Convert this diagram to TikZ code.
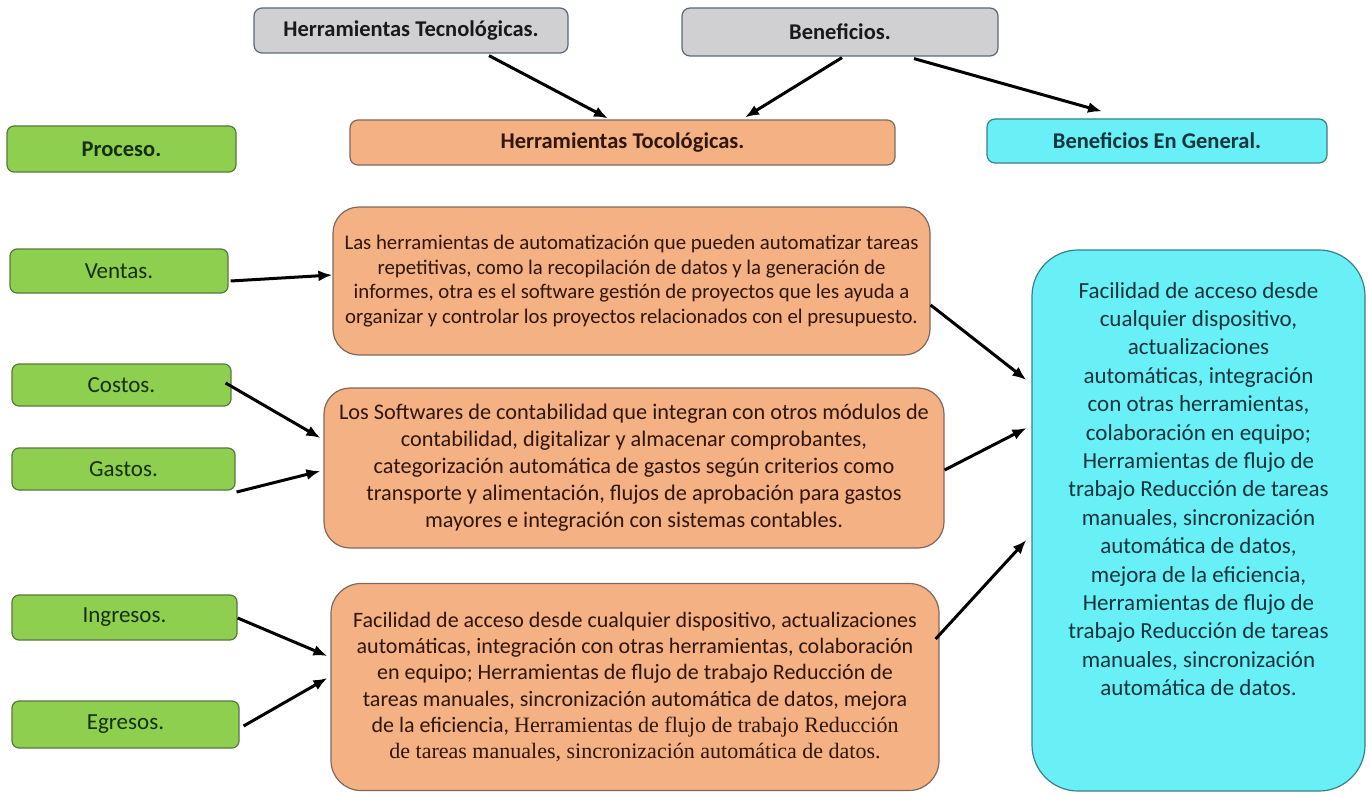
\documentclass[tikz,border=0pt]{standalone}
\usepackage{fontspec}
\setmainfont{Carlito}
\newfontfamily\seriffont{Liberation Serif}
\usepackage{xcolor}
\usepackage{tikz}
\usetikzlibrary{positioning, calc, arrows.meta}
\definecolor{grisfondo}{RGB}{208, 208, 210}
\definecolor{grisborde}{RGB}{92, 104, 118}
\definecolor{naranja}{RGB}{244, 177, 131}
\definecolor{naranjaborde}{RGB}{128, 104, 92}
\definecolor{verde}{RGB}{143, 207, 79}
\definecolor{verdeborde}{RGB}{88, 120, 60}
\definecolor{cian}{RGB}{104, 240, 246}
\definecolor{cianborde}{RGB}{58, 128, 136}
\definecolor{textoverde}{RGB}{22, 48, 10}
\definecolor{textocian}{RGB}{20, 52, 62}
\definecolor{textonaranja}{RGB}{48, 22, 12}

\begin{document}
\begin{tikzpicture}[x=1pt, y=-1pt,
    caja/.style={draw, rectangle, line width=1.2pt, inner sep=0pt},
    gris/.style={caja, fill=grisfondo, draw=grisborde, rounded corners=8pt, font=\fontsize{22.5}{26}\selectfont\bfseries, text=black!90},
    verdebox/.style={caja, fill=verde, draw=verdeborde, rounded corners=7pt, font=\fontsize{23}{27}\selectfont, text=textoverde},
    naranjabox/.style={caja, fill=naranja, draw=naranjaborde, align=center, text=textonaranja},
    flecha/.style={line width=3pt, -{Latex[length=14pt,width=11pt]}}]
    \useasboundingbox (0,0) rectangle (1370,797);

    % fila de arriba
    \node[gris, minimum width=314pt, minimum height=45pt] (tec) at (411,30.5) {Herramientas Tecnológicas.};
    \node[gris, minimum width=316pt, minimum height=48pt] (ben) at (840,32) {Beneficios.};
    \node[gris, fill=naranja, draw=naranjaborde, text=textonaranja, minimum width=545pt, minimum height=45pt] (toco) at (622.5,142.5) {Herramientas Tocológicas.};
    \node[gris, fill=cian, draw=cianborde, text=textocian, minimum width=340pt, minimum height=44pt] (gen) at (1157,141) {Beneficios En General.};

    % procesos
    \node[verdebox, font=\fontsize{22.5}{26}\selectfont\bfseries, minimum width=229pt, minimum height=46pt] (proc) at (121.5,149) {Proceso.};
    \node[verdebox, minimum width=218pt, minimum height=44pt] (ventas) at (119,271) {Ventas.};
    \node[verdebox, minimum width=219pt, minimum height=42pt] (costos) at (121.5,385) {Costos.};
    \node[verdebox, minimum width=223pt, minimum height=42pt] (gastos) at (123.5,469) {Gastos.};
    \node[verdebox, minimum width=225pt, minimum height=45pt] (ingresos) at (124.5,617.5) {Ingresos.};
    \node[verdebox, minimum width=227pt, minimum height=47pt] (egresos) at (125.5,724.5) {Egresos.};

    % herramientas
    \node[naranjabox, rounded corners=26pt, minimum width=597pt, minimum height=148pt, font=\fontsize{20.8}{24.5}\selectfont] (caja1) at (631.5,281) {Las herramientas de automatización que pueden automatizar tareas\\ repetitivas, como la recopilación de datos y la generación de\\ informes, otra es el software gestión de proyectos que les ayuda a\\ organizar y controlar los proyectos relacionados con el presupuesto.};
    \node[naranjabox, rounded corners=26pt, minimum width=620pt, minimum height=160pt, font=\fontsize{22.3}{27}\selectfont] (caja2) at (634,468) {Los Softwares de contabilidad que integran con otros módulos de\\ contabilidad, digitalizar y almacenar comprobantes,\\ categorización automática de gastos según criterios como\\ transporte y alimentación, flujos de aprobación para gastos\\ mayores e integración con sistemas contables.};
    \node[naranjabox, rounded corners=30pt, minimum width=608pt, minimum height=207pt, font=\fontsize{22}{26.2}\selectfont] (caja3) at (635,687) {Facilidad de acceso desde cualquier dispositivo, actualizaciones\\ automáticas, integración con otras herramientas, colaboración\\ en equipo; Herramientas de flujo de trabajo Reducción de\\ tareas manuales, sincronización automática de datos, mejora\\ de la eficiencia, {\seriffont Herramientas de flujo de trabajo Reducción}\\ {\seriffont de tareas manuales, sincronización automática de datos.}};

    % beneficios en general
    \node[caja, fill=cian, draw=cianborde, rounded corners=46pt, minimum width=333pt, minimum height=541pt] (cuadro) at (1198.5,520.5) {};
    \node[align=center, text=textocian, font=\fontsize{23}{28.4}\selectfont] (cuadrotxt) at (1198.5,489) {Facilidad de acceso desde\\ cualquier dispositivo,\\ actualizaciones\\ automáticas, integración\\ con otras herramientas,\\ colaboración en equipo;\\ Herramientas de flujo de\\ trabajo Reducción de tareas\\ manuales, sincronización\\ automática de datos,\\ mejora de la eficiencia,\\ Herramientas de flujo de\\ trabajo Reducción de tareas\\ manuales, sincronización\\ automática de datos.};

    \draw[flecha] ($(tec.south)+(78,2)$) -- ($(toco.north)+(-14.5,-1)$);
    \draw[flecha] ($(ben.south)+(2,1)$) -- ($(toco.north)+(122.5,-2)$);
    \draw[flecha] ($(ben.south)+(74,2)$) -- ($(gen.north)+(-55,-7)$);
    \draw[flecha] ($(ventas.east)+(2,10)$) -- ($(caja1.west)+(0,-6)$);
    \draw[flecha] ($(costos.east)+(-6,-2)$) -- ($(caja2.west)+(-3,-30)$);
    \draw[flecha] ($(gastos.east)+(1,23)$) -- ($(caja2.west)+(-3,3)$);
    \draw[flecha] ($(ingresos.east)+(0,0.5)$) -- ($(caja3.west)+(-3,-31)$);
    \draw[flecha] ($(egresos.east)+(4,1.5)$) -- ($(caja3.west)+(-3,-9)$);
    \draw[flecha] ($(caja1.east)+(0,24)$) -- ($(cuadro.west)+(-5,-140.5)$);
    \draw[flecha] ($(caja2.east)+(0,2)$) -- ($(cuadro.west)+(-5,-92.5)$);
    \draw[flecha] ($(caja3.east)+(-4,-48)$) -- ($(cuadro.west)+(-5,19.5)$);
\end{tikzpicture}
\end{document}
